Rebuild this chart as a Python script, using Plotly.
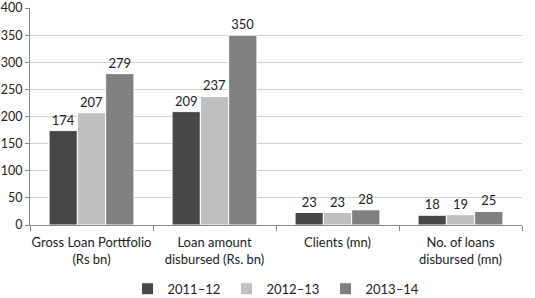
import plotly.graph_objects as go

categories = ["Gross Loan Porttfolio<br>(Rs bn)", "Loan amount<br>disbursed (Rs. bn)", "Clients (mn)", "No. of loans<br>disbursed (mn)"]
series_names = ["2011–12", "2012–13", "2013–14"]
v2011 = [174, 209, 23, 18]
v2012 = [207, 237, 23, 19]
v2013 = [279, 350, 28, 25]
y_ticks = [0, 50, 100, 150, 200, 250, 300, 350, 400]
colors = ["#474747", "#c0c0c0", "#808080"]

fig = go.Figure()
for name, vals, c in zip(series_names, [v2011, v2012, v2013], colors):
    fig.add_trace(go.Bar(
        x=categories, y=vals, name=name,
        marker=dict(color=c, line=dict(color="white", width=1)),
        text=[str(v) for v in vals], textposition="outside",
        textfont=dict(size=13, color="#222"), cliponaxis=False,
    ))

fig.update_layout(
    width=535, height=298,
    margin=dict(l=30, r=13, t=8, b=73, autoexpand=False),
    paper_bgcolor="white", plot_bgcolor="white",
    barmode="group", bargap=0.31, bargroupgap=0,
    font=dict(family="Lato, sans-serif", size=13, color="#222"),
    showlegend=True,
    legend=dict(orientation="h", x=0.5, xanchor="center", y=-0.225, yanchor="top",
                font=dict(size=13), traceorder="normal",
                entrywidth=54, entrywidthmode="pixels", itemwidth=30),
    xaxis=dict(showline=True, linecolor="#888", linewidth=1, ticks="outside",
               tickson="boundaries", ticklen=5, tickcolor="#888", showgrid=False,
               tickangle=0, automargin=False, ticklabelstandoff=5),
    yaxis=dict(range=[0, 400], tickmode="array", tickvals=y_ticks,
               ticktext=[str(t) for t in y_ticks],
               showline=True, linecolor="#888", linewidth=1,
               ticks="outside", ticklen=4, tickcolor="#888", gridcolor="#d0d0d0",
               zeroline=False, automargin=False, tickfont=dict(size=12.5)),
)

fig.write_html("out.html", post_script="document.body.style.margin='0';",
               config={"displayModeBar": False})
